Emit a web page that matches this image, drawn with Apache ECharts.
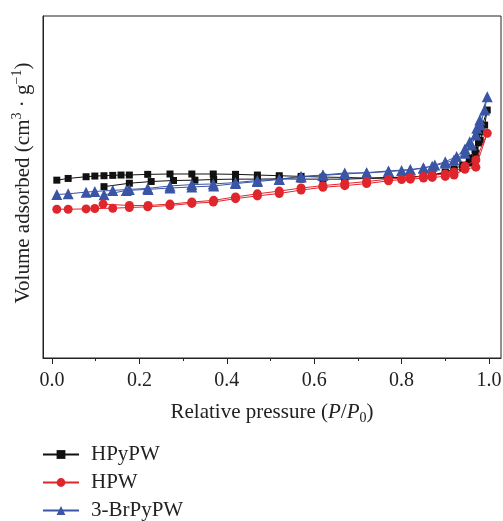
<!DOCTYPE html>
<html>
<head>
<meta charset="utf-8">
<script src="https://cdn.jsdelivr.net/npm/echarts@6/dist/echarts.min.js"></script>
<style>html,body{margin:0;padding:0;background:#fff;}#c{width:503px;height:521px;}</style>
</head>
<body>
<div id="c"></div>
<script>
// HPyPW (adsorption then desorption)
var hpypwP = [0.011,0.037,0.078,0.098,0.119,0.139,0.158,0.177,0.219,0.27,0.32,0.369,0.42,0.47,0.52,0.57,0.62,0.67,0.72,0.77,0.82,0.85,0.87,0.9,0.92,0.94,0.955,0.968,0.976,0.98,0.996,
              0.99,0.98,0.97,0.955,0.94,0.92,0.9,0.87,0.85,0.82,0.77,0.72,0.67,0.62,0.57,0.52,0.47,0.42,0.37,0.327,0.278,0.227,0.177,0.119];
var hpypwV = [52.0,52.5,53.0,53.2,53.3,53.4,53.5,53.5,53.7,53.8,53.8,53.8,53.7,53.5,53.3,53.1,52.9,52.8,52.6,52.8,52.9,53.2,53.5,54.4,55.3,56.4,58.5,60.8,62.9,66.1,72.5,
              68.1,63.7,59.9,57.0,55.6,54.7,54.1,53.5,53.2,52.9,52.6,52.5,52.3,52.3,52.3,52.4,52.3,52.3,52.2,52.0,51.9,51.6,51.1,50.1];
// HPW
var hpwP = [0.011,0.037,0.078,0.098,0.139,0.177,0.219,0.27,0.32,0.369,0.42,0.47,0.52,0.57,0.62,0.67,0.72,0.77,0.8,0.82,0.85,0.87,0.9,0.92,0.945,0.97,0.996,
            0.97,0.945,0.92,0.9,0.87,0.85,0.82,0.77,0.72,0.67,0.62,0.57,0.52,0.47,0.42,0.37,0.32,0.27,0.22,0.177,0.117];
var hpwV = [43.5,43.5,43.6,43.7,43.8,44.0,44.2,44.6,45.2,45.6,46.6,47.4,48.1,49.1,49.9,50.4,51.0,51.8,52.2,52.3,52.6,52.8,53.1,53.5,55.2,55.8,65.7,
            57.9,56.1,54.4,53.8,53.4,53.1,52.8,52.3,51.6,51.0,50.4,49.7,48.8,48.0,47.1,46.1,45.6,45.0,44.6,44.6,45.0];
// 3-BrPyPW
var brP = [0.011,0.037,0.078,0.098,0.139,0.177,0.219,0.27,0.32,0.369,0.42,0.47,0.52,0.57,0.62,0.67,0.72,0.77,0.8,0.82,0.85,0.876,0.9,0.926,0.945,0.956,0.972,0.979,0.996,
           0.99,0.98,0.97,0.96,0.945,0.92,0.9,0.87,0.85,0.82,0.77,0.72,0.67,0.62,0.57,0.52,0.47,0.42,0.37,0.32,0.27,0.22,0.17,0.119];
var brV = [47.8,48.0,48.5,48.7,49.0,49.3,49.6,50.3,50.7,50.9,51.3,51.9,52.3,53.1,53.5,54.1,54.1,54.5,54.8,55.0,55.5,56.4,57.4,58.9,61.1,63.2,67.2,69.6,76.4,
           72.5,68.1,65.2,62.3,59.9,57.9,57.0,56.1,55.6,55.1,54.7,54.2,53.8,53.4,52.9,52.2,51.6,51.0,50.3,50.0,49.7,49.3,49.0,47.7];

var seriesNames = ['HPyPW','HPW','3-BrPyPW'];
var xLabelValues = [0,0.2,0.4,0.6,0.8,1.0];
var xMinorValues = [0.1,0.3,0.5,0.7,0.9];

function zip(a,b){return a.map(function(v,i){return [v,b[i]];});}

var serif = 'Liberation Serif';
var ink = '#222';
var chart = echarts.init(document.getElementById('c'));
chart.setOption({
  animation:false,
  grid:{left:43,right:2,top:16,bottom:163,show:true,borderColor:ink,borderWidth:1,backgroundColor:'transparent',
        containLabel:false,outerBoundsMode:'none'},
  legend:{
    orient:'vertical',left:42,top:444,height:80,padding:0,itemWidth:36,itemHeight:11,itemGap:7,
    data:seriesNames,
    textStyle:{fontFamily:serif,fontSize:21,lineHeight:20,color:ink,padding:[0,0,0,7]}
  },
  xAxis:[{
    type:'value',min:-0.0206,max:1.0275,position:'bottom',
    axisLine:{show:true,onZero:false,lineStyle:{color:ink,width:1}},
    axisTick:{show:true,customValues:xLabelValues,length:6,lineStyle:{color:ink}},
    axisLabel:{customValues:xLabelValues,formatter:function(v){return v.toFixed(1);},fontFamily:serif,fontSize:20,color:ink,margin:13},
    splitLine:{show:false},
    name:'Relative pressure ({i|P}/{i|P}{sub|0})',nameLocation:'middle',nameGap:41,
    nameTextStyle:{fontFamily:serif,fontSize:21,color:ink,lineHeight:26,
      rich:{i:{fontStyle:'italic',fontFamily:serif,fontSize:21,color:ink,lineHeight:26},
            sub:{fontFamily:serif,fontSize:14,color:ink,verticalAlign:'bottom',lineHeight:14}}}
  },{
    type:'value',min:-0.0206,max:1.0275,position:'bottom',gridIndex:0,
    axisLine:{show:false},
    axisTick:{show:true,customValues:xMinorValues,length:3,lineStyle:{color:ink}},
    axisLabel:{show:false},splitLine:{show:false}
  }],
  yAxis:{
    type:'value',min:0,max:100,
    axisLine:{show:true,onZero:false,lineStyle:{color:ink}},
    axisTick:{show:false},axisLabel:{show:false},splitLine:{show:false},
    name:'Volume adsorbed (cm{sup|3} · g{sup|−1})',nameLocation:'middle',nameGap:7,
    nameTextStyle:{fontFamily:serif,fontSize:21,color:ink,lineHeight:26,padding:[0,0,0,8],
      rich:{sup:{fontFamily:serif,fontSize:14,color:ink,verticalAlign:'top',lineHeight:14}}}
  },
  series:[
    {name:'HPyPW',type:'line',data:zip(hpypwP,hpypwV),symbol:'rect',symbolSize:7,
      itemStyle:{color:'#111'},lineStyle:{color:'#111',width:1},z:2},
    {name:'3-BrPyPW',type:'line',data:zip(brP,brV),symbol:'triangle',symbolSize:11,
      itemStyle:{color:'#3a55a6'},lineStyle:{color:'#3a55a6',width:1},z:3},
    {name:'HPW',type:'line',data:zip(hpwP,hpwV),symbol:'circle',symbolSize:9,
      itemStyle:{color:'#e0262d'},lineStyle:{color:'#e0262d',width:1},z:4}
  ]
});
</script>
</body>
</html>
